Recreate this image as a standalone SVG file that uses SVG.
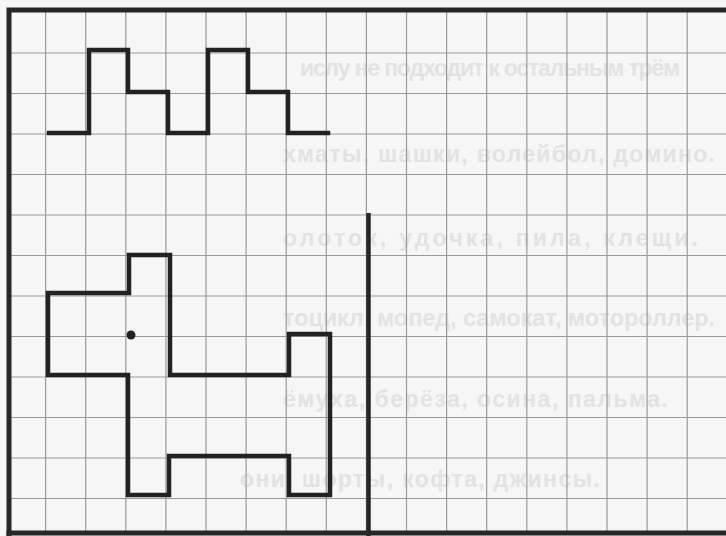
<svg xmlns="http://www.w3.org/2000/svg" width="726" height="536" viewBox="0 0 726 536">
<style>
.grid{stroke:#999;stroke-width:1.2;fill:none}
.frame{stroke:#262626;stroke-width:5;fill:none;stroke-linecap:square}
.fig{stroke:#222;stroke-width:4.5;fill:none;stroke-linejoin:miter;stroke-linecap:square}
.bleed{font-family:"Liberation Sans","DejaVu Sans",sans-serif;font-size:23px;font-weight:bold;fill:#e3e3e3}
</style>
<rect x="0" y="0" width="726" height="536" fill="#f6f6f6"/>
<g id="bleed-text">
<text class="bleed" x="300" y="76" font-size="21" textLength="380" lengthAdjust="spacing">ислу не подходит к остальным трём</text>
<text class="bleed" x="283" y="162" textLength="432" lengthAdjust="spacing">хматы, шашки, волейбол, домино.</text>
<text class="bleed" x="283" y="246" textLength="415" lengthAdjust="spacing">олоток, удочка, пила, клещи.</text>
<text class="bleed" x="283" y="326" textLength="432" lengthAdjust="spacingAndGlyphs">тоцикл, мопед, самокат, мотороллер.</text>
<text class="bleed" x="283" y="407" textLength="385" lengthAdjust="spacing">ёмуха, берёза, осина, пальма.</text>
<text class="bleed" x="240" y="487" textLength="360" lengthAdjust="spacing">они, шорты, кофта, джинсы.</text>
</g>
<g id="grid">
<path class="grid" d="M45.6 10V533M85.7 10V533M125.8 10V533M165.9 10V533M206 10V533M246.1 10V533M286.2 10V533M326.3 10V533M366.4 10V533M406.5 10V533M446.6 10V533M486.7 10V533M526.8 10V533M566.9 10V533M607 10V533M647.1 10V533M687.2 10V533"/>
<path class="grid" d="M9 53H726M9 93.5H726M9 134H726M9 174.5H726M9 215H726M9 255.5H726M9 296H726M9 336.5H726M9 377H726M9 417.5H726M9 458H726M9 498.5H726"/>
</g>
<g id="frame">
<path class="frame" d="M9 536V10H728"/>
<path class="frame" d="M9 533H728"/>
</g>
<g id="divider">
<path class="frame" style="stroke-width:4.5;stroke-linecap:butt" d="M368.5 213V536"/>
</g>
<g id="figure-zigzag">
<polyline class="fig" points="49,133 89,133 89,50 128,50 128,92 168,92 168,133 208,133 208,50 248,50 248,92 288,92 288,133 328,133"/>
</g>
<g id="figure-dog">
<polygon class="fig" points="129,255 170,255 170,375 289,375 289,334 330,334 330,495 289,495 289,456 169,456 169,495 128,495 128,375 48,375 48,293 129,293"/>
<circle cx="131" cy="335" r="4.5" fill="#222"/>
</g>
</svg>
